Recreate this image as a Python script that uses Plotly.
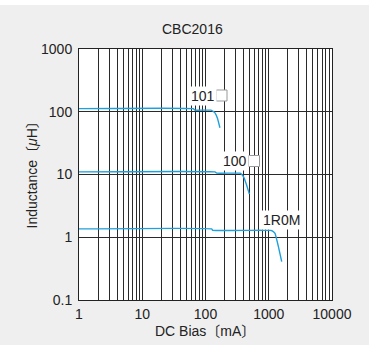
import plotly.graph_objects as go

# ---- data ----
bias_101 = [1, 64, 68, 122, 141, 155, 169]
ind_101 = [112, 112, 106, 106, 96, 78, 55.6]

bias_100 = [1, 141, 150, 351, 378, 405, 445, 494]
ind_100 = [11.0, 11.0, 10.5, 10.5, 9.9, 8.96, 6.85, 4.86]

bias_1r0 = [1, 125, 130, 1047, 1150, 1256, 1416, 1603]
ind_1r0 = [1.36, 1.36, 1.29, 1.29, 1.25, 1.15, 0.72, 0.41]

x_ticks = [1, 10, 100, 1000, 10000]
x_ticktext = ["1", "10", "100", "1000", "10000"]
y_ticks = [0.1, 1, 10, 100, 1000]
y_ticktext = ["0.1", "1", "10", "100", "1000"]
x_minor = [m * d for d in [1, 10, 100, 1000] for m in range(2, 10)]

W, H = 369, 345
L, R, T, B = 79, 332, 49, 300


def px(x):
    return (x - L) / (R - L)


def py(y):
    return (B - y) / (B - T)


FONT = "Liberation Sans, Arial, Noto Sans CJK JP, sans-serif"
BLUE = "#1fa0dc"
FS = 14

fig = go.Figure()
for xs, ys in [(bias_101, ind_101), (bias_100, ind_100), (bias_1r0, ind_1r0)]:
    fig.add_trace(go.Scatter(x=xs, y=ys, mode="lines",
                             line=dict(color=BLUE, width=1.4, shape="spline", smoothing=0.3),
                             showlegend=False, hoverinfo="skip"))

fig.update_layout(
    width=W, height=H,
    margin=dict(l=L, r=W - R, t=T, b=H - B),
    paper_bgcolor="#efefef",
    plot_bgcolor="white",
    font=dict(family=FONT, size=FS, color="#222"),
    showlegend=False,
)
fig.update_xaxes(type="log", range=[0, 4], tickvals=x_ticks, ticktext=x_ticktext,
                 showgrid=True, gridcolor="#2a2a2a", gridwidth=1,
                 minor=dict(tickvals=x_minor, showgrid=True, gridcolor="#2a2a2a", gridwidth=1, ticks=""),
                 showline=True, linecolor="#222", linewidth=1, mirror=True,
                 ticks="", zeroline=False, tickfont=dict(size=FS, color="#222"),
                 ticklabelstandoff=1)
fig.update_yaxes(type="log", range=[-1, 3], tickvals=y_ticks, ticktext=y_ticktext,
                 showgrid=True, gridcolor="#2a2a2a", gridwidth=1,
                 showline=True, linecolor="#222", linewidth=1, mirror=True,
                 ticks="", zeroline=False, tickfont=dict(size=FS, color="#222"),
                 ticklabelstandoff=3)

shapes = [
    # white strip at the very top
    dict(type="rect", xref="paper", yref="paper", x0=px(-5), x1=px(W + 5), y0=py(5), y1=py(-5),
         fillcolor="white", line=dict(width=0), layer="below"),
    dict(type="rect", xref="paper", yref="paper", x0=px(216), x1=px(227), y0=py(101), y1=py(90),
         fillcolor="white", line=dict(color="#999", width=1)),
    dict(type="rect", xref="paper", yref="paper", x0=px(248.5), x1=px(259.5), y0=py(166.5), y1=py(155.5),
         fillcolor="white", line=dict(color="#999", width=1)),
]
fig.update_layout(shapes=shapes)

ann = [
    dict(text="CBC2016", x=px(192), y=py(29)),
    dict(text="101", x=px(202.5), y=py(96), bgcolor="white", borderpad=1),
    dict(text="100", x=px(235), y=py(161), bgcolor="white", borderpad=1),
    dict(text="1R0M", x=px(281.5), y=py(220), bgcolor="white", borderpad=1),
    dict(text="DC Bias〔mA〕", x=px(205), y=py(331)),
    dict(text="Inductance〔<i>μ</i>H〕", x=px(31.5), y=py(172), textangle=-90),
]
for a in ann:
    fig.add_annotation(xref="paper", yref="paper", showarrow=False,
                       xanchor="center", yanchor="middle",
                       font=dict(family=FONT, size=FS, color="#222"), **a)

fig.write_html("out.html")
